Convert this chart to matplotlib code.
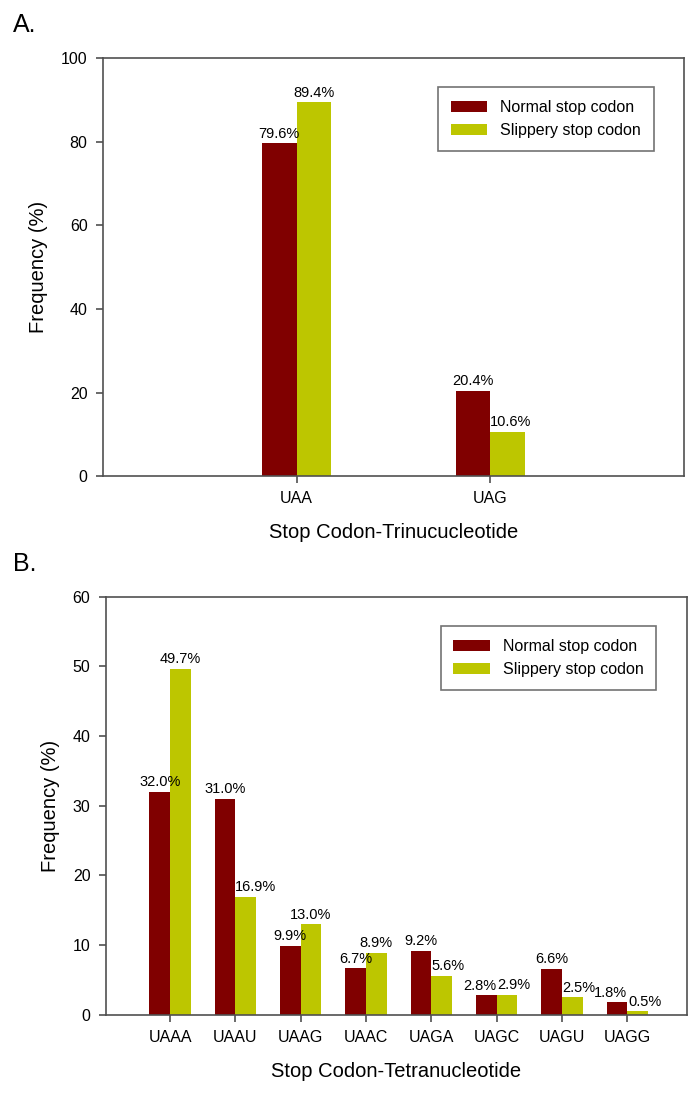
import numpy as np
import matplotlib
matplotlib.use("Agg")
import matplotlib.pyplot as plt

plt.rcParams["font.family"] = ["Liberation Sans", "DejaVu Sans"]

# data
tri_codons = ["UAA", "UAG"]
tri_normal = [79.6, 20.4]
tri_slippery = [89.4, 10.6]

tetra_codons = ["UAAA", "UAAU", "UAAG", "UAAC", "UAGA", "UAGC", "UAGU", "UAGG"]
tetra_normal = [32.0, 31.0, 9.9, 6.7, 9.2, 2.8, 6.6, 1.8]
tetra_slippery = [49.7, 16.9, 13.0, 8.9, 5.6, 2.9, 2.5, 0.5]

normal_color = "#800000"
slippery_color = "#bdc600"
spine_color = "#505050"

fig = plt.figure(figsize=(7, 10.97), dpi=100)


def draw_panel(ax, codons, normal, slippery, width, xlim, ymax, ystep, xlabel):
    x = np.arange(len(codons))
    ax.bar(x - width / 2, normal, width, color=normal_color, label="Normal stop codon")
    ax.bar(x + width / 2, slippery, width, color=slippery_color, label="Slippery stop codon")

    # value labels, nudged sideways where they would run into each other
    close = ymax * 0.034  # about one label height in data units
    pad = ymax * 0.006
    for xi, n, s in zip(x, normal, slippery):
        if abs(n - s) < close:
            n_x, n_ha, s_x, s_ha = xi - 0.01, "right", xi + 0.01, "left"
        elif s < n:
            n_x, n_ha, s_x, s_ha = xi - width / 2, "center", xi, "left"
        else:
            n_x, n_ha, s_x, s_ha = xi - width / 2, "center", xi + width / 2, "center"
        ax.text(n_x, n + pad, "%.1f%%" % n, ha=n_ha, va="bottom", fontsize=10.5)
        ax.text(s_x, s + pad, "%.1f%%" % s, ha=s_ha, va="bottom", fontsize=10.5)

    ax.set_xlim(*xlim)
    ax.set_ylim(0, ymax)
    ax.set_xticks(x)
    ax.set_xticklabels(codons, fontsize=11.5)
    ax.set_yticks(np.arange(0, ymax + 1, ystep))
    ax.tick_params(axis="y", labelsize=11.5)
    ax.tick_params(direction="out", length=5, width=1.2, color=spine_color, pad=6)
    for s in ax.spines.values():
        s.set_color(spine_color)
        s.set_linewidth(1.2)
    ax.set_xlabel(xlabel, fontsize=14.5, labelpad=12)
    ax.set_ylabel("Frequency (%)", fontsize=14.5, labelpad=9)
    leg = ax.legend(loc="upper right", bbox_to_anchor=(0.948, 0.93), borderaxespad=0,
                    fontsize=11.5, fancybox=False, edgecolor=spine_color,
                    handlelength=2.3, handleheight=0.7, borderpad=0.8)
    leg.get_frame().set_linewidth(1.2)


ax1 = fig.add_axes([0.147, 0.566, 0.830, 0.381])
draw_panel(ax1, tri_codons, tri_normal, tri_slippery, 0.178, (-1, 2), 100, 20,
           "Stop Codon-Trinucucleotide")

ax2 = fig.add_axes([0.151, 0.075, 0.830, 0.381])
draw_panel(ax2, tetra_codons, tetra_normal, tetra_slippery, 0.317, (-0.985, 7.91), 60, 10,
           "Stop Codon-Tetranucleotide")

fig.text(0.018, 1 - 25 / 1097, "A.", fontsize=18, va="center", ha="left")
fig.text(0.018, 1 - 564 / 1097, "B.", fontsize=18, va="center", ha="left")

plt.savefig("out.png", dpi=100)
